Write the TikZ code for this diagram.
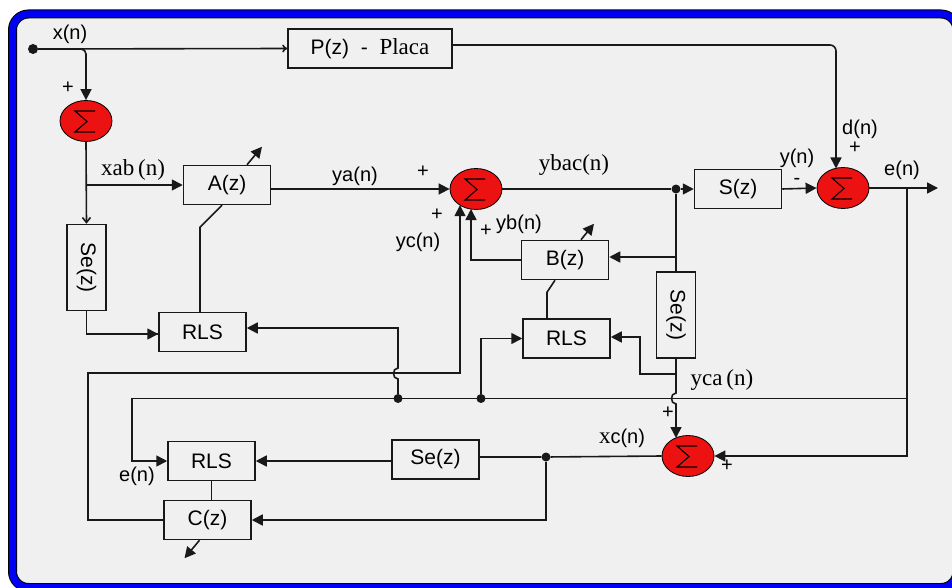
\documentclass[tikz,border=0pt]{standalone}
\usepackage{fontspec}
\setmainfont{Liberation Serif}
\setsansfont{Liberation Sans}
\usepackage{graphicx}
\usetikzlibrary{shapes.geometric,arrows.meta,calc}
\definecolor{bg}{RGB}{240,240,240}
\definecolor{sumred}{RGB}{236,18,18}
\definecolor{linec}{RGB}{25,25,25}
\definecolor{frameblue}{RGB}{0,0,245}
\newcommand{\mysf}{\sffamily\fontsize{20}{22}\selectfont}
\newcommand{\myboxf}{\sffamily\fontsize{21}{23}\selectfont}
\newcommand{\myserif}{\rmfamily\fontsize{23}{25}\selectfont}
\tikzset{
  blk/.style={draw=linec, line width=1.5pt, minimum width=87pt, minimum height=39pt, inner sep=0pt, font=\myboxf},
  vblk/.style={blk, minimum width=39pt, minimum height=86pt},
  sumnode/.style={ellipse, draw=black, fill=sumred, minimum width=52pt, minimum height=41pt, inner sep=0pt, line width=0.8pt,
    path picture={\draw[black, line width=1.1pt, line join=miter] (path picture bounding box.center) ++(9pt,10pt) -- ++(-20pt,0pt) -- ++(12pt,-10.5pt) -- ++(-12pt,-10.5pt) -- ++(20pt,0pt);}},
  wire/.style={draw=linec, line width=1.6pt},
  arr/.style={wire, -{Triangle[length=11pt,width=11pt]}},
  junc/.style={circle, fill=linec, inner sep=0pt, minimum size=9pt},
  lbl/.style={font=\mysf, inner sep=0pt},
  slbl/.style={font=\myserif, inner sep=0pt},
}
\begin{document}
\begin{tikzpicture}[x=1pt,y=-1pt]
\useasboundingbox (0,0) rectangle (952,588);
\clip (0,0) rectangle (952,588);
\fill[white] (0,0) rectangle (952,588);
\draw[black, line width=9pt, rounded corners=16pt, fill=bg] (12.5,14) rectangle (957,587.5);
\draw[frameblue, line width=7pt, rounded corners=16pt] (12.5,14) rectangle (957,587.5);

% nodes
\node[junc, minimum size=10pt] (in) at (33,49) {};
\node[blk, minimum width=164pt] (P) at (370,48.5) {P(z)\ \ - \ {\myserif Placa}};
\node[sumnode] (s1) at (86,121) {};
\node[blk] (A) at (227,185) {A(z)};
\node[vblk] (SeL) at (86.5,267.5) {\rotatebox{-90}{Se(z)}};
\node[blk] (R1) at (202.5,332) {RLS};
\node[sumnode] (s2) at (476,189) {};
\node[blk] (S) at (738,189) {S(z)};
\node[sumnode] (s3) at (843,188) {};
\node[blk] (B) at (565,260) {B(z)};
\node[blk] (R2) at (566.5,338.5) {RLS};
\node[vblk] (SeR) at (676,315) {\rotatebox{-90}{Se(z)}};
\node[sumnode] (s4) at (688,456) {};
\node[blk] (Se3) at (435.5,459.5) {Se(z)};
\node[blk] (R3) at (211.5,461) {RLS};
\node[blk] (C) at (207.5,520) {C(z)};

\node[junc] (j1) at (676,189) {};
\node[junc] (j2) at (398,398.5) {};
\node[junc] (j3) at (481,398.5) {};
\node[junc] (j4) at (546,457) {};

\coordinate (eout) at (938,188);
\coordinate (eb) at (907,188);
\coordinate (eb2) at (907,398.5);
\coordinate (s3n) at (836,168.5);
\coordinate (s2c) at (460,205.2);
\coordinate (s2b) at (471,209);
\coordinate (s4n) at (676,438);

% connectors
\draw[wire, -{To[length=5pt,width=8pt]}] (in) -- (P.west);
\draw[arr, rounded corners=5pt] (in) -| (s1.north);
\draw[wire, -{Straight Barb[length=5pt,width=8pt]}] (s1.south) -- (SeL.north);
\draw[arr] (s1.south |- A.west) -- (A.west);
\draw[arr] (A.east |- s2.west) -- (s2.west);
\draw[wire] (s2.east) -- (j1);
\draw[arr] (j1) -- (S.west);
\draw[arr] (S.east) -- (s3.west);
\draw[arr, rounded corners=6pt] ([yshift=3.5pt]P.east) -| (s3n);
\draw[arr] (s3.east) -- (eout);
\draw[arr] (eb) |- (s4.east);
\draw[arr] (eb2) -| ($(R3.west)+(-35pt,0pt)$) -- (R3.west);
\draw[arr] (j2) -- (398,379) .. controls (392,379) and (392,368) .. (398,368) |- ([yshift=4pt]R1.east);
\draw[arr] (j3) |- (R2.west);
\draw[arr] (C.west) -| (88,373) -| (s2c);
\draw[arr] (B.west) -| (s2b);
\draw[wire] (j1) -- (SeR.north);
\draw[arr] (SeR.north |- 0,257) -- (B.east |- 0,257);
\draw[arr] (SeR.south |- 0,374) -| (640,337) -- (R2.east |- 0,337);
\draw[arr] (SeR.south) -- (676,393) .. controls (670,393) and (670,404) .. (676,404) -- (s4n);
\draw[wire] (s4.west) -- (j4) -- (Se3.east |- j4);
\draw[arr] (Se3.west |- R3.east) -- (R3.east);
\draw[arr] (j4) |- (C.east);
\draw[wire] (R3.south) -- (R3.south |- C.north);
\draw[wire] (SeL.south) |- ([yshift=-2pt]R1.west);
\draw[arr] (SeL.south |- 0,334) -- ([yshift=-2pt]R1.west);
\draw[wire] ([xshift=-5pt]A.south) -- ++(-22pt,-22pt) -- ([xshift=-2.5pt]R1.north);
\draw[wire] ([xshift=-10pt]B.south) -- ++(-8pt,-12pt) -- ([xshift=-19.5pt]R2.north);
% adaptive arrows
\draw[arr] ([xshift=20pt]A.north) -- ++(15pt,18pt);
\draw[arr] ([xshift=16pt]B.north) -- ++(13pt,16pt);
\draw[arr] ([xshift=-8pt]C.south) -- ++(-15pt,-18pt);

% labels
\node[lbl] (lx) at (70,34) {x(n)};
\node[lbl] (p1) at (68,88) {+};
\node[slbl] (lxab) at (133,170) {xab\,(n)};
\node[lbl] (lya) at (355,176) {ya(n)};
\node[lbl] (p2) at (423,172) {+};
\node[slbl] (lybac) at (574,165) {ybac(n)};
\node[lbl] (ly) at (797,158) {y(n)};
\node[lbl] (m1) at (797,181) {-};
\node[lbl] (ld) at (860,129) {d(n)};
\node[lbl] (p3) at (855,148) {+};
\node[lbl] (le) at (902,170) {e(n)};
\node[lbl] (p4) at (437,215) {+};
\node[lbl] (lyc) at (418,242) {yc(n)};
\node[lbl] (p5) at (486,231) {+};
\node[lbl] (lyb) at (519,224) {yb(n)};
\node[slbl] (lyca) at (722,380) {yca\,(n)};
\node[lbl] (p6) at (668,413) {+};
\node[lbl] (lxc) at (622,438) {{\myserif x}c(n)};
\node[lbl] (p7) at (727,466) {+};
\node[lbl] (le2) at (137,476) {e(n)};
\end{tikzpicture}
\end{document}
